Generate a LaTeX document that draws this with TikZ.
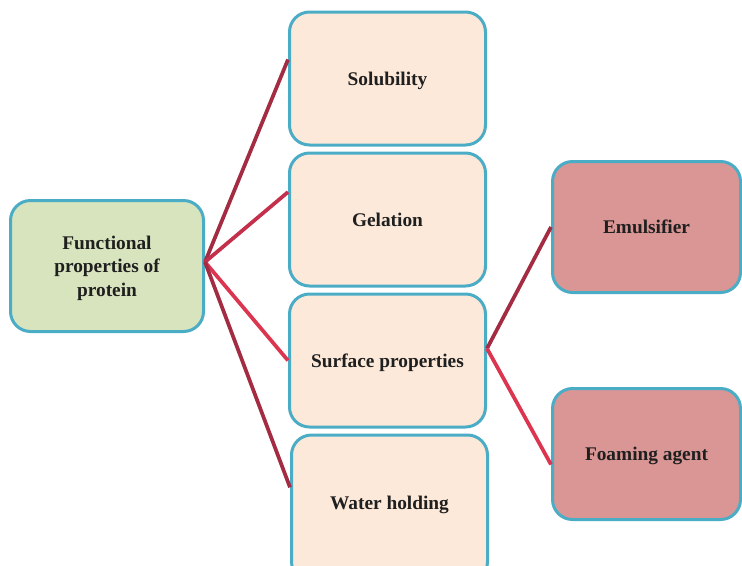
\documentclass[tikz,border=0pt]{standalone}
\usepackage{fontspec}
\setmainfont{Liberation Serif}
\usetikzlibrary{positioning}

\definecolor{boxblue}{HTML}{4BACC6}
\definecolor{rootgreen}{HTML}{D7E4BD}
\definecolor{midpeach}{HTML}{FDE9D9}
\definecolor{leafrose}{HTML}{D99694}
\definecolor{linkdark}{HTML}{A32B42}
\definecolor{linkmid}{HTML}{C4304B}
\definecolor{linkbright}{HTML}{DC3550}

\begin{document}
\begin{tikzpicture}[x=0.75pt, y=-0.75pt,
    box/.style={draw=boxblue, line width=2.25pt, rounded corners=15pt,
      align=center, text=black!88, text depth=0pt,
      font=\fontsize{14.5}{17.6}\selectfont\bfseries},
    rootbox/.style={box, fill=rootgreen, minimum width=144.75pt, minimum height=98.25pt},
    midbox/.style={box, fill=midpeach, minimum width=147pt, minimum height=99.75pt},
    leafbox/.style={box, fill=leafrose, minimum width=141pt, minimum height=98.25pt},
    link/.style={line width=2.8pt},
    node distance=3.75pt]
  \useasboundingbox (0,0) rectangle (742,565);

  \node[rootbox] (func) at (107,266) {Functional\\properties of\\protein};
  \node[midbox] (gel) at (387.5,219.5) {Gelation};
  \node[midbox, above=of gel] (sol) {Solubility};
  \node[midbox, below=of gel] (surf) {Surface properties};
  \node[midbox, below=of surf, xshift=1.5pt, minimum height=110pt] (water) {\raisebox{8.5pt}{Water holding}};
  \node[leafbox] (emul) at (646.5,227) {Emulsifier};
  \node[leafbox, below=69.75pt of emul] (foam) {Foaming agent};

  \draw[link, linkdark] ([yshift=3pt]func.east) -- ([yshift=14.25pt]sol.west);
  \draw[link, linkmid] ([yshift=3pt]func.east) -- ([yshift=20.6pt]gel.west);
  \draw[link, linkbright] ([yshift=3pt]func.east) -- (surf.west);
  \draw[link, linkdark] ([yshift=3pt]func.east) -- ([yshift=15.75pt]water.west);

  \draw[link, linkdark] ([yshift=9pt]surf.east) -- (emul.west);
  \draw[link, linkbright] ([yshift=9pt]surf.east) -- ([yshift=-7.9pt]foam.west);
\end{tikzpicture}
\end{document}
